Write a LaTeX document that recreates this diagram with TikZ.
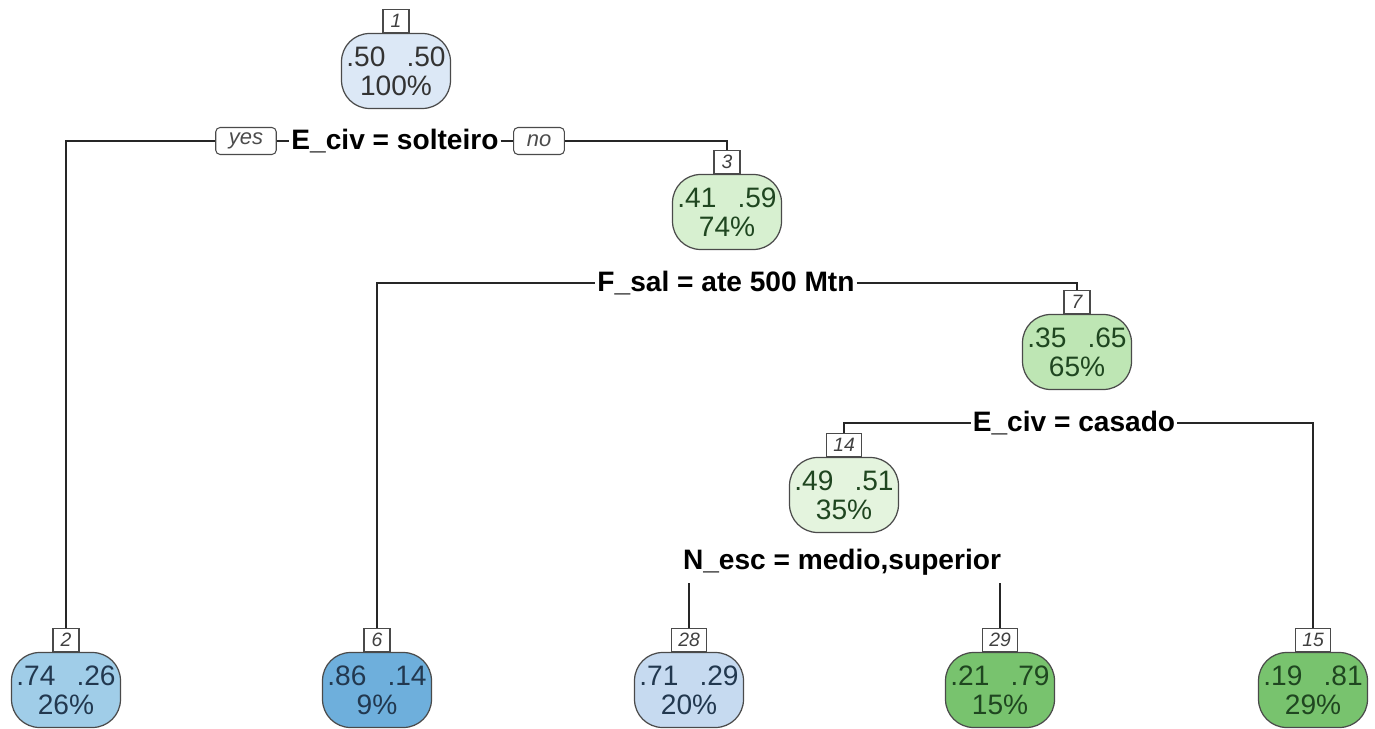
\documentclass[tikz,border=0pt]{standalone}
\usepackage{fontspec}
\setmainfont{Liberation Sans}
\usetikzlibrary{positioning}

\definecolor{blueA}{HTML}{DCE8F6}
\definecolor{blueB}{HTML}{C6DAF0}
\definecolor{blueC}{HTML}{A0CDE8}
\definecolor{blueD}{HTML}{6EAFDC}
\definecolor{greenA}{HTML}{E4F4DE}
\definecolor{greenB}{HTML}{D7F0D0}
\definecolor{greenC}{HTML}{BEE6B4}
\definecolor{greenD}{HTML}{78C36E}
\definecolor{txtblue}{HTML}{22384F}
\definecolor{txtgreen}{HTML}{1F4620}
\definecolor{boxline}{HTML}{4A4A4A}

\tikzset{
  valbox/.style={draw=boxline, line width=0.7pt, rounded corners=16pt,
    minimum width=2.18cm, minimum height=1.5cm, inner sep=0pt, align=center,
    font=\fontsize{16}{16.5}\selectfont},
  numbox/.style={draw=boxline, fill=white, line width=0.6pt, text=black!75,
    minimum width=0.52cm, minimum height=0.46cm, inner xsep=4pt, inner ysep=1pt,
    font=\fontsize{11}{11}\selectfont\itshape},
  splitlab/.style={inner xsep=1pt, inner ysep=4.5pt,
    font=\fontsize{16}{16}\selectfont\bfseries},
  yesno/.style={draw=boxline, line width=0.6pt, rounded corners=2.5pt, text=black!70,
    minimum height=0.54cm, inner xsep=7.5pt, inner ysep=1pt,
    font=\fontsize{12.5}{13}\selectfont\itshape},
  branch/.style={draw=black!85, line width=0.9pt}
}

\newcommand{\probs}[3]{#1\hspace{0.75em}#2\\#3\%}

\begin{document}
\begin{tikzpicture}[x=0.02cm, y=-0.02cm]
  \useasboundingbox (0,0) rectangle (1375,729);

  % inner nodes
  \node[valbox, fill=blueA, text=black!80] (v1) at (396,71) {\probs{.50}{.50}{100}};
  \node[numbox, above=0pt of v1] (n1) {1};
  \node[valbox, fill=greenB, text=txtgreen] (v3) at (727,212) {\probs{.41}{.59}{74}};
  \node[numbox, above=0pt of v3] (n3) {3};
  \node[valbox, fill=greenC, text=txtgreen] (v7) at (1077,352) {\probs{.35}{.65}{65}};
  \node[numbox, above=0pt of v7] (n7) {7};
  \node[valbox, fill=greenA, text=txtgreen] (v14) at (844,495) {\probs{.49}{.51}{35}};
  \node[numbox, above=0pt of v14] (n14) {14};

  % leaves
  \node[valbox, fill=blueC, text=txtblue] (v2) at (66,690) {\probs{.74}{.26}{26}};
  \node[numbox, above=0pt of v2] (n2) {2};
  \node[valbox, fill=blueD, text=txtblue] (v6) at (377,690) {\probs{.86}{.14}{9}};
  \node[numbox, above=0pt of v6] (n6) {6};
  \node[valbox, fill=blueB, text=txtblue] (v28) at (689,690) {\probs{.71}{.29}{20}};
  \node[numbox, above=0pt of v28] (n28) {28};
  \node[valbox, fill=greenD, text=txtgreen] (v29) at (1000,690) {\probs{.21}{.79}{15}};
  \node[numbox, above=0pt of v29] (n29) {29};
  \node[valbox, fill=greenD, text=txtgreen] (v15) at (1313,690) {\probs{.19}{.81}{29}};
  \node[numbox, above=0pt of v15] (n15) {15};

  % split labels
  \node[splitlab] (s1) at (395,141) {E\_civ = solteiro};
  \node[yesno] (yes) at (246,141) {yes};
  \node[yesno] (no) at (539,141) {no};
  \node[splitlab] (s3) at (726,283) {F\_sal = ate 500 Mtn};
  \node[splitlab] (s7) at (1074,423) {E\_civ = casado};
  \node[splitlab] (s14) at (842,562) {N\_esc = medio,superior};

  % branches
  \draw[branch] (n2.north) |- (yes.west);
  \draw[branch] (yes.east) -- (s1.west);
  \draw[branch] (s1.east) -- (no.west);
  \draw[branch] (no.east) -| (n3.north);
  \draw[branch] (n6.north) |- (s3.west);
  \draw[branch] (s3.east) -| (n7.north);
  \draw[branch] (n14.north) |- (s7.west);
  \draw[branch] (s7.east) -| (n15.north);
  \draw[branch] (n28.north) -- (n28.north |- s14.south);
  \draw[branch] (n29.north) -- (n29.north |- s14.south);
\end{tikzpicture}
\end{document}
